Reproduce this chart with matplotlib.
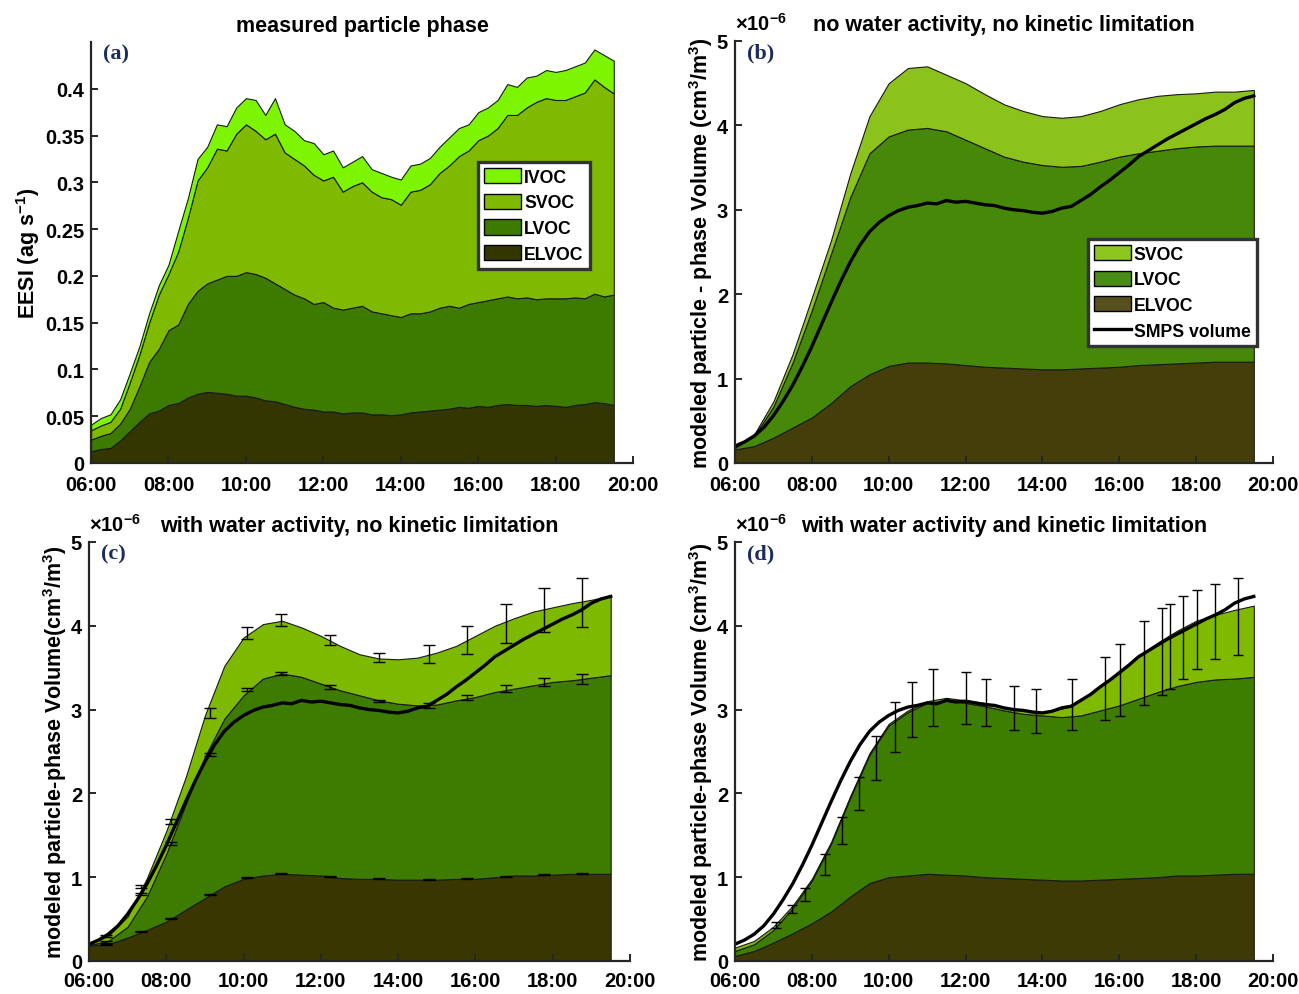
import numpy as np
import matplotlib
matplotlib.use("Agg")
import matplotlib.pyplot as plt
from matplotlib.patches import Patch
from matplotlib.lines import Line2D

plt.rcParams['font.family'] = ['Liberation Sans', 'DejaVu Sans']
plt.rcParams['font.weight'] = 'bold'
plt.rcParams['mathtext.fontset'] = 'custom'
plt.rcParams['mathtext.rm'] = 'Liberation Sans'
plt.rcParams['mathtext.bf'] = 'Liberation Sans:bold'

# time grids (hours of day)
t15 = np.arange(6, 19.5001, 0.25)
t30 = np.arange(6, 19.5001, 0.5)
hour_ticks = [6, 8, 10, 12, 14, 16, 18, 20]
hour_labels = ['06:00', '08:00', '10:00', '12:00', '14:00', '16:00', '18:00', '20:00']

# ---- (a) measured EESI, stacked tops (ag/s), 15 min ----
a_elvoc_top = [0.0125, 0.015, 0.016, 0.024, 0.034, 0.044, 0.053, 0.056, 0.062, 0.064, 0.070, 0.074,
               0.076, 0.075, 0.074, 0.072, 0.072, 0.070, 0.067, 0.066, 0.063, 0.060, 0.058, 0.057,
               0.055, 0.055, 0.053, 0.054, 0.054, 0.052, 0.052, 0.051, 0.052, 0.054, 0.055, 0.056,
               0.057, 0.058, 0.060, 0.059, 0.061, 0.060, 0.062, 0.063, 0.062, 0.062, 0.061, 0.062,
               0.061, 0.060, 0.062, 0.063, 0.065, 0.064, 0.062]
a_lvoc_top = [0.025, 0.029, 0.032, 0.042, 0.058, 0.082, 0.108, 0.122, 0.142, 0.148, 0.170, 0.184,
              0.192, 0.196, 0.200, 0.200, 0.204, 0.202, 0.198, 0.192, 0.186, 0.180, 0.176, 0.170,
              0.172, 0.166, 0.164, 0.166, 0.168, 0.162, 0.160, 0.158, 0.156, 0.160, 0.160, 0.162,
              0.166, 0.168, 0.166, 0.170, 0.172, 0.174, 0.176, 0.178, 0.176, 0.177, 0.175, 0.176,
              0.176, 0.176, 0.177, 0.176, 0.181, 0.178, 0.180]
a_svoc_top = [0.035, 0.040, 0.044, 0.058, 0.086, 0.116, 0.150, 0.180, 0.202, 0.226, 0.262, 0.302,
              0.316, 0.336, 0.334, 0.352, 0.362, 0.355, 0.346, 0.352, 0.332, 0.325, 0.318, 0.308,
              0.302, 0.306, 0.290, 0.296, 0.300, 0.290, 0.284, 0.282, 0.276, 0.290, 0.292, 0.298,
              0.310, 0.318, 0.328, 0.334, 0.345, 0.350, 0.358, 0.372, 0.372, 0.380, 0.386, 0.390,
              0.388, 0.388, 0.392, 0.396, 0.410, 0.402, 0.395]
a_ivoc_top = [0.041, 0.048, 0.052, 0.068, 0.096, 0.125, 0.160, 0.190, 0.212, 0.248, 0.283, 0.325,
              0.338, 0.362, 0.360, 0.380, 0.390, 0.388, 0.372, 0.390, 0.362, 0.355, 0.345, 0.342,
              0.330, 0.334, 0.316, 0.322, 0.328, 0.314, 0.310, 0.306, 0.303, 0.318, 0.320, 0.326,
              0.338, 0.348, 0.358, 0.362, 0.375, 0.380, 0.388, 0.405, 0.402, 0.412, 0.414, 0.420,
              0.418, 0.420, 0.424, 0.428, 0.442, 0.436, 0.430]

# ---- SMPS volume (x1e-6 cm3/m3), 15 min ----
smps = [0.20, 0.25, 0.32, 0.42, 0.56, 0.73, 0.92, 1.14, 1.38, 1.64, 1.90, 2.15,
        2.38, 2.58, 2.74, 2.85, 2.93, 2.99, 3.03, 3.05, 3.08, 3.07, 3.11, 3.09,
        3.10, 3.08, 3.06, 3.05, 3.02, 3.00, 2.99, 2.97, 2.96, 2.98, 3.02, 3.04,
        3.11, 3.18, 3.27, 3.35, 3.44, 3.53, 3.63, 3.70, 3.77, 3.84, 3.90, 3.96,
        4.02, 4.08, 4.13, 4.19, 4.27, 4.32, 4.35]

# ---- (b) no water activity, no kinetic limitation, 30 min ----
b_elvoc_top = [0.16, 0.20, 0.30, 0.42, 0.54, 0.71, 0.91, 1.05, 1.15, 1.19, 1.19, 1.18, 1.16, 1.14,
               1.13, 1.12, 1.11, 1.11, 1.12, 1.13, 1.14, 1.16, 1.17, 1.18, 1.19, 1.20, 1.20, 1.20]
b_lvoc_top = [0.18, 0.32, 0.67, 1.19, 1.81, 2.48, 3.15, 3.67, 3.87, 3.95, 3.97, 3.93, 3.83, 3.73,
              3.63, 3.57, 3.53, 3.51, 3.52, 3.57, 3.63, 3.67, 3.70, 3.73, 3.75, 3.76, 3.76, 3.76]
b_svoc_top = [0.18, 0.34, 0.73, 1.29, 1.96, 2.64, 3.43, 4.11, 4.50, 4.68, 4.70, 4.60, 4.50, 4.37,
              4.25, 4.17, 4.11, 4.09, 4.11, 4.17, 4.25, 4.31, 4.35, 4.37, 4.38, 4.40, 4.40, 4.42]

# ---- (c) with water activity, no kinetic limitation ----
c_elvoc_top = [0.185, 0.20, 0.28, 0.37, 0.47, 0.61, 0.75, 0.89, 0.98, 1.02, 1.04, 1.03, 1.02, 0.99,
               0.98, 0.98, 0.97, 0.97, 0.97, 0.98, 0.98, 1.00, 1.02, 1.02, 1.03, 1.04, 1.04, 1.04]
c_lvoc_top = [0.19, 0.24, 0.41, 0.77, 1.28, 1.87, 2.44, 2.89, 3.17, 3.37, 3.43, 3.39, 3.31, 3.23,
              3.17, 3.11, 3.07, 3.05, 3.06, 3.11, 3.15, 3.21, 3.25, 3.29, 3.33, 3.35, 3.38, 3.41]
c_svoc_top = [0.20, 0.30, 0.53, 0.99, 1.55, 2.19, 2.93, 3.52, 3.86, 4.02, 4.06, 3.98, 3.88, 3.76,
              3.66, 3.61, 3.60, 3.62, 3.68, 3.76, 3.88, 4.00, 4.09, 4.17, 4.22, 4.27, 4.31, 4.36]
c_err_t = [6.45, 7.35, 8.13, 9.12, 10.1, 10.96, 12.23, 13.5, 14.8, 15.79, 16.78, 17.77, 18.75]
c_err_svoc = [0.30, 0.89, 1.66, 2.96, 3.91, 4.07, 3.83, 3.62, 3.66, 3.83, 4.03, 4.19, 4.28]
c_err_svoc_sd = [0.01, 0.02, 0.03, 0.055, 0.07, 0.07, 0.065, 0.05, 0.11, 0.17, 0.23, 0.26, 0.29]
c_err_lvoc = [0.23, 0.80, 1.40, 2.46, 3.24, 3.43, 3.27, 3.10, 3.05, 3.14, 3.25, 3.33, 3.37]
c_err_lvoc_sd = [0.01, 0.015, 0.015, 0.02, 0.02, 0.02, 0.02, 0.015, 0.03, 0.03, 0.04, 0.05, 0.06]
c_err_elvoc = [0.20, 0.35, 0.51, 0.79, 1.00, 1.04, 1.01, 0.98, 0.97, 0.98, 1.01, 1.03, 1.04]
c_err_elvoc_sd = [0.005] * 13

# ---- (d) with water activity and kinetic limitation ----
d_elvoc_top = [0.06, 0.12, 0.22, 0.33, 0.45, 0.59, 0.77, 0.93, 1.00, 1.02, 1.04, 1.03, 1.02, 1.00,
               0.99, 0.98, 0.97, 0.96, 0.96, 0.97, 0.98, 0.99, 1.00, 1.02, 1.02, 1.03, 1.04, 1.04]
d_lvoc_top = [0.12, 0.20, 0.37, 0.63, 0.96, 1.40, 1.95, 2.46, 2.81, 2.97, 3.08, 3.11, 3.08, 3.04,
              2.99, 2.95, 2.93, 2.91, 2.93, 2.99, 3.05, 3.13, 3.21, 3.28, 3.33, 3.36, 3.37, 3.39]
d_svoc_top = [0.16, 0.24, 0.41, 0.66, 0.98, 1.42, 1.97, 2.48, 2.83, 2.99, 3.10, 3.14, 3.11, 3.08,
              3.03, 2.99, 2.97, 3.01, 3.11, 3.27, 3.46, 3.64, 3.80, 3.94, 4.06, 4.13, 4.19, 4.24]
d_err_t = [7.08, 7.48, 7.82, 8.33, 8.78, 9.22, 9.68, 10.16, 10.6, 11.16, 12.0, 12.53, 13.25,
           13.84, 14.76, 15.63, 16.03, 16.65, 17.12, 17.33, 17.67, 18.01, 18.5, 19.1]
d_err_mid = [0.43, 0.62, 0.79, 1.15, 1.56, 2.0, 2.42, 2.79, 3.0, 3.14, 3.14, 3.08, 3.02,
             2.98, 3.06, 3.25, 3.35, 3.56, 3.69, 3.75, 3.86, 3.96, 4.05, 4.11]
d_err_sd = [0.04, 0.05, 0.08, 0.13, 0.16, 0.2, 0.26, 0.3, 0.33, 0.34, 0.31, 0.28, 0.26,
            0.26, 0.3, 0.38, 0.43, 0.5, 0.52, 0.51, 0.49, 0.47, 0.45, 0.46]

fig = plt.figure(figsize=(12.99, 9.95), dpi=100)
ax_a = fig.add_axes([0.0701, 0.5337, 0.4173, 0.4231])
ax_b = fig.add_axes([0.5658, 0.5337, 0.4142, 0.4241])
ax_c = fig.add_axes([0.0685, 0.0332, 0.4165, 0.4211])
ax_d = fig.add_axes([0.5658, 0.0332, 0.4142, 0.4211])

EDGE = '#1a1a1a'


def stack(ax, t, tops, colors):
    base = np.zeros(len(t))
    for top, col in zip(tops, colors):
        top = np.asarray(top)
        ax.fill_between(t, base, top, facecolor=col, edgecolor=EDGE, linewidth=0.8, zorder=1)
        base = top


def style(ax, ylim, yticks, yticklabels, letter, title, sci=True, xpad=9):
    ax.set_xlim(6, 20)
    ax.set_ylim(*ylim)
    ax.set_xticks(hour_ticks)
    ax.set_xticklabels(hour_labels)
    ax.set_yticks(yticks)
    ax.set_yticklabels(yticklabels)
    for s in ['top', 'right']:
        ax.spines[s].set_visible(False)
    for s in ['left', 'bottom']:
        ax.spines[s].set_linewidth(1.6)
        ax.spines[s].set_color('#262626')
        ax.spines[s].set_zorder(5)
    ax.tick_params(direction='in', length=5, width=1.4, labelsize=14.5, pad=5, color='#262626')
    ax.tick_params(axis='x', pad=xpad)
    ax.text(0.022, 0.972, letter, transform=ax.transAxes, ha='left', va='center',
            fontsize=16, fontweight='bold', family='Liberation Serif', color='#1c2c5c', zorder=6)
    ax.set_title(title, fontsize=15.5, fontweight='bold', pad=8)
    if sci:
        ax.text(0.0, 1.016, r'$\times10^{-6}$', transform=ax.transAxes, ha='left', va='bottom',
                fontsize=14.5, fontweight='normal')


# (a)
stack(ax_a, t15, [a_elvoc_top, a_lvoc_top, a_svoc_top, a_ivoc_top],
      ['#343600', '#3d7b00', '#7fba00', '#7df500'])
style(ax_a, (0, 0.45), [0, 0.05, 0.1, 0.15, 0.2, 0.25, 0.3, 0.35, 0.4],
      ['0', '0.05', '0.1', '0.15', '0.2', '0.25', '0.3', '0.35', '0.4'],
      '(a)', 'measured particle phase', sci=False)
ax_a.set_ylabel(r'EESI (ag s$^{\mathbf{-1}}$)', fontsize=15.5, fontweight='bold', labelpad=2)
ha = [Patch(facecolor=c, edgecolor='black', linewidth=1.0) for c in
      ['#7df500', '#7fba00', '#3d7b00', '#343600']]
leg = ax_a.legend(ha, ['IVOC', 'SVOC', 'LVOC', 'ELVOC'], loc='upper left',
                  bbox_to_anchor=(0.714, 0.715), fontsize=12.7, handlelength=2.1, handleheight=0.95,
                  handletextpad=0.15, labelspacing=0.45, borderpad=0.35, borderaxespad=0,
                  fancybox=False, framealpha=1)
leg.get_frame().set_edgecolor('#333333')
leg.get_frame().set_linewidth(2.4)

vticks = [0, 1, 2, 3, 4, 5]
vlabels = ['0', '1', '2', '3', '4', '5']

# (b)
stack(ax_b, t30, [b_elvoc_top, b_lvoc_top, b_svoc_top], ['#443f0a', '#468807', '#8bc21b'])
ax_b.plot(t15, smps, color='black', linewidth=2.4, zorder=3)
style(ax_b, (0, 5), vticks, vlabels, '(b)', 'no water activity, no kinetic limitation')
ax_b.set_ylabel(r'modeled particle - phase Volume (cm$^{\mathbf{3}}$/m$^{\mathbf{3}}$)',
                fontsize=15.5, fontweight='bold', labelpad=1)
hb = [Patch(facecolor=c, edgecolor='black', linewidth=1.0) for c in
      ['#8dc61e', '#4a8c18', '#56501e']]
hb.append(Line2D([], [], color='black', linewidth=2.4))
leg = ax_b.legend(hb, ['SVOC', 'LVOC', 'ELVOC', 'SMPS volume'], loc='upper left',
                  bbox_to_anchor=(0.656, 0.531), fontsize=12.7, handlelength=2.1, handleheight=0.95,
                  handletextpad=0.15, labelspacing=0.45, borderpad=0.35, borderaxespad=0,
                  fancybox=False, framealpha=1)
leg.get_frame().set_edgecolor('#333333')
leg.get_frame().set_linewidth(2.4)

# (c)
stack(ax_c, t30, [c_elvoc_top, c_lvoc_top, c_svoc_top], ['#3a3600', '#3d7c00', '#7cb900'])
ax_c.plot(t15, smps, color='black', linewidth=2.4, zorder=3)
for mid, sd in [(c_err_svoc, c_err_svoc_sd), (c_err_lvoc, c_err_lvoc_sd),
                (c_err_elvoc, c_err_elvoc_sd)]:
    ax_c.errorbar(c_err_t, mid, yerr=sd, fmt='none', ecolor='black', elinewidth=1.0,
                  capsize=4.5, capthick=1.0, zorder=4)
style(ax_c, (0, 5), vticks, vlabels, '(c)', 'with water activity, no kinetic limitation', xpad=7)
ax_c.set_ylabel(r'modeled particle-phase Volume(cm$^{\mathbf{3}}$/m$^{\mathbf{3}}$)',
                fontsize=15.5, fontweight='bold', labelpad=1)

# (d)
stack(ax_d, t30, [d_elvoc_top, d_lvoc_top, d_svoc_top], ['#3d3a05', '#3d7d00', '#80ba00'])
ax_d.plot(t15, smps, color='black', linewidth=2.4, zorder=3)
ax_d.errorbar(d_err_t, d_err_mid, yerr=d_err_sd, fmt='none', ecolor='black', elinewidth=1.0,
              capsize=3.8, capthick=1.0, zorder=4)
style(ax_d, (0, 5), vticks, vlabels, '(d)', 'with water activity and kinetic limitation', xpad=7)
ax_d.set_ylabel(r'modeled particle-phase Volume (cm$^{\mathbf{3}}$/m$^{\mathbf{3}}$)',
                fontsize=15.5, fontweight='bold', labelpad=1)

fig.savefig('out.png', dpi=100)
